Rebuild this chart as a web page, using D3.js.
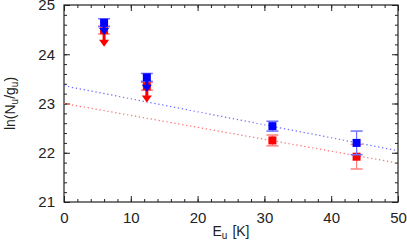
<!DOCTYPE html>
<html>
<head>
<meta charset="utf-8">
<script src="https://cdn.jsdelivr.net/npm/d3@7"></script>
<style>
  body { margin: 0; background: #fff; }
  text { font-family: "Liberation Sans", Arial, sans-serif; fill: #222; }
</style>
</head>
<body>
<div id="chart"></div>
<script>
// Dimensions and SVG setup
const width = 407, height = 242, margin = { top: 5, right: 9, bottom: 40, left: 64 };
const plotWidth = width - margin.left - margin.right;
const plotHeight = height - margin.top - margin.bottom;

// Data
const energy = [6.0, 12.4, 31.2, 43.8];           // E_u [K]
const blueVal = [24.64, 23.53, 22.54, 22.20];
const blueErr = [0.08, 0.08, 0.10, 0.24];
const blueLimit = [24.39, 23.24, null, null];      // arrow tips (upper limits)
const redVal = [24.49, 23.35, 22.25, 21.92];
const redErr = [0.08, 0.08, 0.11, 0.25];
const redLimit = [24.15, 23.02, null, null];
const fitX = [0, 50];
const blueFit = [23.36, 22.04];
const redFit = [23.00, 21.79];
const xTicks = [0, 10, 20, 30, 40, 50];
const yTicks = [21, 22, 23, 24, 25];

const svg = d3.select("#chart").append("svg")
    .attr("width", width)
    .attr("height", height);

const g = svg.append("g")
    .attr("transform", `translate(${margin.left},${margin.top})`);

// Scales
const x = d3.scaleLinear().domain([0, 50]).range([0, plotWidth]);
const y = d3.scaleLinear().domain([21, 25]).range([plotHeight, 0]);

// Axes with inward ticks on all four sides
function drawAxis(axis, transform) {
    const a = g.append("g").attr("transform", transform).call(axis);
    a.select(".domain").remove();
    a.selectAll("line").attr("stroke", "#222");
    return a;
}
const minorX = d3.range(0, 50.01, 2), minorY = d3.range(21, 25.01, 0.2);

drawAxis(d3.axisBottom(x).tickValues(minorX).tickSize(-3).tickFormat(""), `translate(0,${plotHeight})`);
drawAxis(d3.axisTop(x).tickValues(minorX).tickSize(-3).tickFormat(""), "translate(0,0)");
drawAxis(d3.axisLeft(y).tickValues(minorY).tickSize(-3).tickFormat(""), "translate(0,0)");
drawAxis(d3.axisRight(y).tickValues(minorY).tickSize(-3).tickFormat(""), `translate(${plotWidth},0)`);

drawAxis(d3.axisBottom(x).tickValues(xTicks).tickSize(-6).tickPadding(10).tickFormat(d3.format("d")), `translate(0,${plotHeight})`);
drawAxis(d3.axisTop(x).tickValues(xTicks).tickSize(-6).tickFormat(""), "translate(0,0)");
drawAxis(d3.axisLeft(y).tickValues(yTicks).tickSize(-6).tickPadding(9).tickFormat(d3.format("d")), "translate(0,0)");
drawAxis(d3.axisRight(y).tickValues(yTicks).tickSize(-6).tickFormat(""), `translate(${plotWidth},0)`);

svg.selectAll(".tick text").attr("font-size", 15).attr("fill", "#222")
    .style("font-family", "Liberation Sans, Arial, sans-serif");

// Frame
g.append("rect")
    .attr("width", plotWidth).attr("height", plotHeight)
    .attr("fill", "none").attr("stroke", "#222").attr("stroke-width", 1.2);

// Axis labels
const xl = svg.append("text")
    .attr("x", margin.left + x(25))
    .attr("y", 236)
    .attr("text-anchor", "middle")
    .attr("font-size", 14);
xl.append("tspan").text("E");
xl.append("tspan").attr("font-size", 10).attr("dy", 3).text("u");
xl.append("tspan").attr("dy", -3).attr("dx", 5).text("[K]");

const ylab = svg.append("text")
    .attr("transform", `translate(15,${margin.top + y(23)}) rotate(-90)`)
    .attr("text-anchor", "middle")
    .attr("font-size", 14);
ylab.append("tspan").text("ln(N");
ylab.append("tspan").attr("font-size", 10).attr("dy", 3).text("u");
ylab.append("tspan").attr("dy", -3).text("/g");
ylab.append("tspan").attr("font-size", 10).attr("dy", 3).text("u");
ylab.append("tspan").attr("dy", -3).text(")");

// Fit lines
const line = d3.line().x(d => x(d[0])).y(d => y(d[1]));
const fits = [
    { vals: blueFit, color: "#6b6bff" },
    { vals: redFit, color: "#ff7070" }
];
g.selectAll(".fit").data(fits).enter().append("path")
    .attr("class", "fit")
    .attr("d", d => line(fitX.map((e, i) => [e, d.vals[i]])))
    .attr("fill", "none")
    .attr("stroke", d => d.color)
    .attr("stroke-width", 1.2)
    .attr("stroke-dasharray", "1.3,2.7");

// Series: red drawn first, blue on top
const series = [
    { vals: redVal, err: redErr, lim: redLimit, color: "#ff0000", light: "#ff8080" },
    { vals: blueVal, err: blueErr, lim: blueLimit, color: "#0000ff", light: "#7070ff" }
];

const sq = 8, cap = 12;
series.forEach(s => {
    const pts = energy.map((e, i) => ({ e, v: s.vals[i], err: s.err[i], lim: s.lim[i] }));
    const grp = g.append("g");

    // error bars
    pts.forEach(p => {
        const cx = x(p.e), y0 = y(p.v - p.err), y1 = y(p.v + p.err);
        grp.append("line").attr("x1", cx).attr("x2", cx).attr("y1", y0).attr("y2", y1)
            .attr("stroke", s.light).attr("stroke-width", 1.2);
        [y0, y1].forEach(yy => grp.append("line")
            .attr("x1", cx - cap / 2).attr("x2", cx + cap / 2)
            .attr("y1", yy).attr("y2", yy)
            .attr("stroke", s.light).attr("stroke-width", 1.5));
    });

    // squares
    grp.selectAll("rect").data(pts).enter().append("rect")
        .attr("x", d => x(d.e) - sq / 2)
        .attr("y", d => y(d.v) - sq / 2)
        .attr("width", sq).attr("height", sq)
        .attr("fill", s.color);

    // upper-limit arrows
    pts.filter(p => p.lim !== null).forEach(p => {
        const cx = x(p.e), yt = y(p.lim), head = 7;
        grp.append("line").attr("x1", cx).attr("x2", cx)
            .attr("y1", y(p.v)).attr("y2", yt - head + 1)
            .attr("stroke", s.color).attr("stroke-width", 3);
        grp.append("path")
            .attr("d", `M${cx - 5},${yt - head}L${cx + 5},${yt - head}L${cx},${yt}Z`)
            .attr("fill", s.color);
    });
});
</script>
</body>
</html>
